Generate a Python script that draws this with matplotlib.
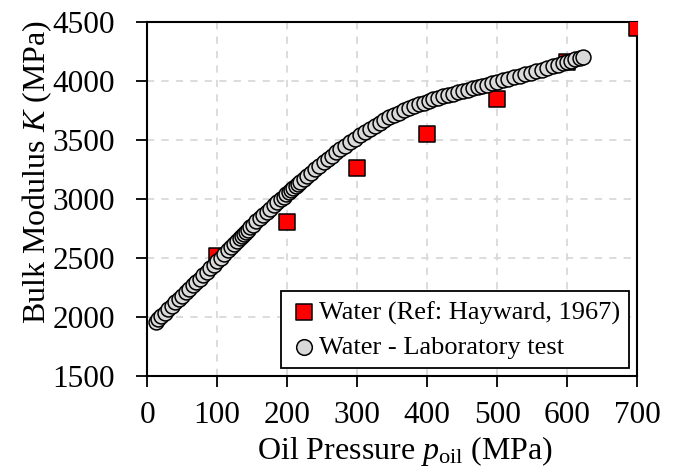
import matplotlib
matplotlib.use("Agg")
import matplotlib.pyplot as plt

# Reference data (Hayward, 1967)
ref_p = [100, 200, 300, 400, 500, 600, 700]
ref_K = [2520, 2805, 3260, 3550, 3850, 4160, 4450]

# Laboratory test data
lab_p = [12, 16, 20, 25, 30, 35, 40, 45, 50, 55, 60, 65, 70, 75, 80, 85, 90, 95,
         100, 105, 110, 115, 120, 124, 128, 132, 135, 138, 141, 144, 147, 151, 156,
         161, 166, 171, 176, 181, 186, 191, 195, 199, 203, 206, 209, 212, 215, 219,
         224, 229, 234, 240, 246, 252, 258, 264, 270, 276, 283, 290, 297, 304, 311,
         318, 325, 332, 339, 346, 353, 360, 367, 374, 381, 388, 395, 402, 409, 416,
         423, 430, 437, 444, 451, 458, 465, 472, 479, 486, 493, 500, 508, 516, 524,
         532, 540, 548, 556, 564, 572, 580, 587, 594, 600, 606, 612, 618, 623]
lab_K = [1960, 1983, 2006, 2035, 2064, 2093, 2122, 2151, 2180, 2209, 2238, 2267,
         2296, 2325, 2354, 2383, 2412, 2441, 2470, 2501, 2532, 2563, 2594, 2619,
         2644, 2668, 2686, 2704, 2722, 2740, 2758, 2781, 2809, 2837, 2864, 2891,
         2918, 2945, 2972, 2999, 3020, 3041, 3062, 3078, 3094, 3109, 3125, 3145,
         3170, 3195, 3220, 3250, 3280, 3309, 3338, 3366, 3394, 3421, 3452, 3482,
         3512, 3541, 3569, 3596, 3622, 3646, 3669, 3691, 3712, 3732, 3750, 3768,
         3785, 3801, 3816, 3830, 3844, 3857, 3869, 3881, 3893, 3904, 3915, 3926,
         3937, 3948, 3959, 3970, 3981, 3992, 4005, 4018, 4031, 4044, 4057, 4070,
         4083, 4096, 4110, 4124, 4137, 4150, 4161, 4173, 4184, 4195, 4205]

x_ticks = [0, 100, 200, 300, 400, 500, 600, 700]
y_ticks = [1500, 2000, 2500, 3000, 3500, 4000, 4500]

plt.rcParams['font.family'] = ['Liberation Serif', 'DejaVu Serif']
plt.rcParams['mathtext.fontset'] = 'custom'
plt.rcParams['mathtext.rm'] = 'Liberation Serif'
plt.rcParams['mathtext.it'] = 'Liberation Serif:italic'

fig = plt.figure(figsize=(6.94, 4.68), dpi=100)
ax = fig.add_axes([0.212, 0.197, 0.706, 0.756])

ax.scatter(ref_p, ref_K, marker='s', s=135, facecolor='#ff0000', edgecolor='black',
           linewidth=1.1, zorder=3, label='Water (Ref: Hayward, 1967)')
ax.scatter(lab_p, lab_K, marker='o', s=115, facecolor='#d9d9d9', edgecolor='black',
           linewidth=1.1, zorder=4, label='Water - Laboratory test')

ax.set_xlim(0, 700)
ax.set_ylim(1500, 4500)
ax.set_xticks(x_ticks)
ax.set_yticks(y_ticks)
ax.tick_params(axis='both', direction='out', length=8, width=1.3, labelsize=22.5)
ax.tick_params(axis='x', pad=10)
ax.tick_params(axis='y', pad=15)
ax.grid(True, color='#d9d9d9', linestyle=(0, (4, 4)), linewidth=1.3)
ax.set_axisbelow(True)
for sp in ax.spines.values():
    sp.set_linewidth(1.5)

ax.set_xlabel(r'Oil Pressure $\mathit{p}_{\mathrm{oil}}$ (MPa)', fontsize=23)
ax.set_ylabel(r'Bulk Modulus $\mathit{K}$ (MPa)', fontsize=23)
ax.xaxis.set_label_coords(0.527, -0.165)
ax.yaxis.set_label_coords(-0.19, 0.576)

leg = ax.legend(loc='lower right', fontsize=19, frameon=True, fancybox=False,
                edgecolor='black', framealpha=1, handletextpad=0.0,
                handlelength=1.1, borderpad=0.35, labelspacing=0.4,
                borderaxespad=0.3, markerscale=1.05)
leg.get_frame().set_linewidth(1.3)

fig.savefig('out.png', dpi=100)
